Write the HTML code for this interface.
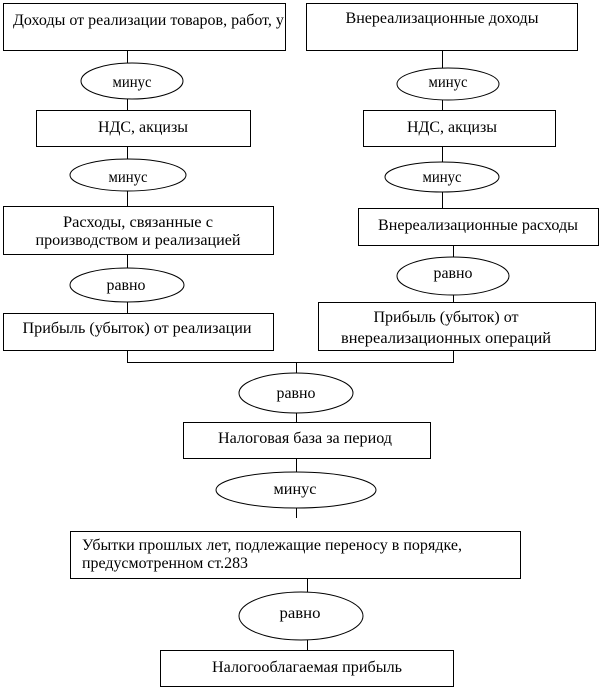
<!DOCTYPE html>
<html><head><meta charset="utf-8"><style>
html,body{margin:0;padding:0;background:#fff;}
svg{display:block;}
text{font-family:"Liberation Serif","Times New Roman","DejaVu Serif",serif;font-size:16px;fill:#000;}
</style></head><body>
<svg width="602" height="690" viewBox="0 0 602 690" xmlns="http://www.w3.org/2000/svg">
<defs><clipPath id="c1"><rect x="4" y="4" width="280" height="45"/></clipPath></defs>
<g fill="none" stroke="#000" stroke-width="1">
<rect x="3.5" y="3.5" width="282" height="47"/>
<line x1="127.5" y1="50" x2="127.5" y2="110"/>
<rect x="36.5" y="110.5" width="214" height="36"/>
<line x1="127.5" y1="146" x2="127.5" y2="206"/>
<rect x="3.5" y="206.5" width="270" height="48"/>
<line x1="127.5" y1="254" x2="127.5" y2="313"/>
<rect x="3.5" y="313.5" width="270" height="37"/>
<line x1="127.5" y1="350" x2="127.5" y2="362.5"/>
<rect x="306.5" y="3.5" width="271" height="47"/>
<line x1="442.5" y1="50" x2="442.5" y2="110"/>
<rect x="363.5" y="110.5" width="192" height="36"/>
<line x1="442.5" y1="146" x2="442.5" y2="208"/>
<rect x="358.5" y="208.5" width="240" height="37"/>
<line x1="453.5" y1="245" x2="453.5" y2="302"/>
<rect x="318.5" y="302.5" width="277" height="48"/>
<line x1="453.5" y1="350" x2="453.5" y2="362.5"/>
<line x1="127" y1="362.5" x2="454" y2="362.5"/>
<line x1="296.5" y1="362" x2="296.5" y2="422"/>
<rect x="183.5" y="422.5" width="247" height="36"/>
<line x1="296.5" y1="458" x2="296.5" y2="518"/>
<rect x="70.5" y="531.5" width="450" height="47"/>
<line x1="307.5" y1="578" x2="307.5" y2="650"/>
<rect x="160.5" y="650.5" width="293" height="36"/>
</g>
<g fill="#fff" stroke="#000" stroke-width="1">
<ellipse cx="132" cy="81" rx="51" ry="18"/>
<ellipse cx="128" cy="175" rx="58" ry="16"/>
<ellipse cx="127" cy="285" rx="57" ry="17"/>
<ellipse cx="448" cy="84" rx="51" ry="16"/>
<ellipse cx="442" cy="177" rx="57" ry="15"/>
<ellipse cx="453" cy="276" rx="56" ry="19"/>
<ellipse cx="296" cy="393" rx="57" ry="20"/>
<ellipse cx="296" cy="490" rx="80" ry="18"/>
<ellipse cx="301" cy="616" rx="62" ry="24"/>
</g>
<g font-family="Liberation Serif, Times New Roman, DejaVu Serif, serif" font-size="16">
<text x="13" y="25" clip-path="url(#c1)">Доходы  от реализации товаров, работ, услуг</text>
<text x="132" y="87" text-anchor="middle" textLength="39" lengthAdjust="spacingAndGlyphs">минус</text>
<text x="143" y="132" text-anchor="middle" textLength="90" lengthAdjust="spacingAndGlyphs">НДС, акцизы</text>
<text x="128" y="182" text-anchor="middle" textLength="39" lengthAdjust="spacingAndGlyphs">минус</text>
<text x="138" y="227" text-anchor="middle" textLength="150" lengthAdjust="spacingAndGlyphs">Расходы, связанные с</text>
<text x="138" y="245" text-anchor="middle" textLength="205" lengthAdjust="spacingAndGlyphs">производством и реализацией</text>
<text x="126" y="290" text-anchor="middle" textLength="39" lengthAdjust="spacingAndGlyphs">равно</text>
<text x="137" y="333" text-anchor="middle" textLength="229" lengthAdjust="spacingAndGlyphs">Прибыль (убыток)  от реализации</text>

<text x="442" y="23" text-anchor="middle" textLength="193" lengthAdjust="spacingAndGlyphs">Внереализационные доходы</text>
<text x="448" y="87" text-anchor="middle" textLength="39" lengthAdjust="spacingAndGlyphs">минус</text>
<text x="452" y="132" text-anchor="middle" textLength="90" lengthAdjust="spacingAndGlyphs">НДС, акцизы</text>
<text x="442" y="182" text-anchor="middle" textLength="39" lengthAdjust="spacingAndGlyphs">минус</text>
<text x="478" y="230" text-anchor="middle" textLength="200" lengthAdjust="spacingAndGlyphs">Внереализационные расходы</text>
<text x="453" y="278" text-anchor="middle" textLength="39" lengthAdjust="spacingAndGlyphs">равно</text>
<text x="446" y="322" text-anchor="middle" textLength="145" lengthAdjust="spacingAndGlyphs">Прибыль (убыток)  от</text>
<text x="446" y="343" text-anchor="middle" textLength="210" lengthAdjust="spacingAndGlyphs">внереализационных  операций</text>

<text x="296" y="398" text-anchor="middle" textLength="39" lengthAdjust="spacingAndGlyphs">равно</text>
<text x="305" y="443" text-anchor="middle" textLength="174" lengthAdjust="spacingAndGlyphs">Налоговая база за период</text>
<text x="295" y="494" text-anchor="middle" textLength="43" lengthAdjust="spacingAndGlyphs">минус</text>
<text x="82" y="550" textLength="380" lengthAdjust="spacingAndGlyphs">Убытки  прошлых лет, подлежащие  переносу в порядке,</text>
<text x="82" y="568" textLength="166" lengthAdjust="spacingAndGlyphs">предусмотренном ст.283</text>
<text x="300" y="618" text-anchor="middle" textLength="41" lengthAdjust="spacingAndGlyphs">равно</text>
<text x="307" y="672" text-anchor="middle" textLength="190" lengthAdjust="spacingAndGlyphs">Налогооблагаемая  прибыль</text>
</g>
</svg>
</body></html>
